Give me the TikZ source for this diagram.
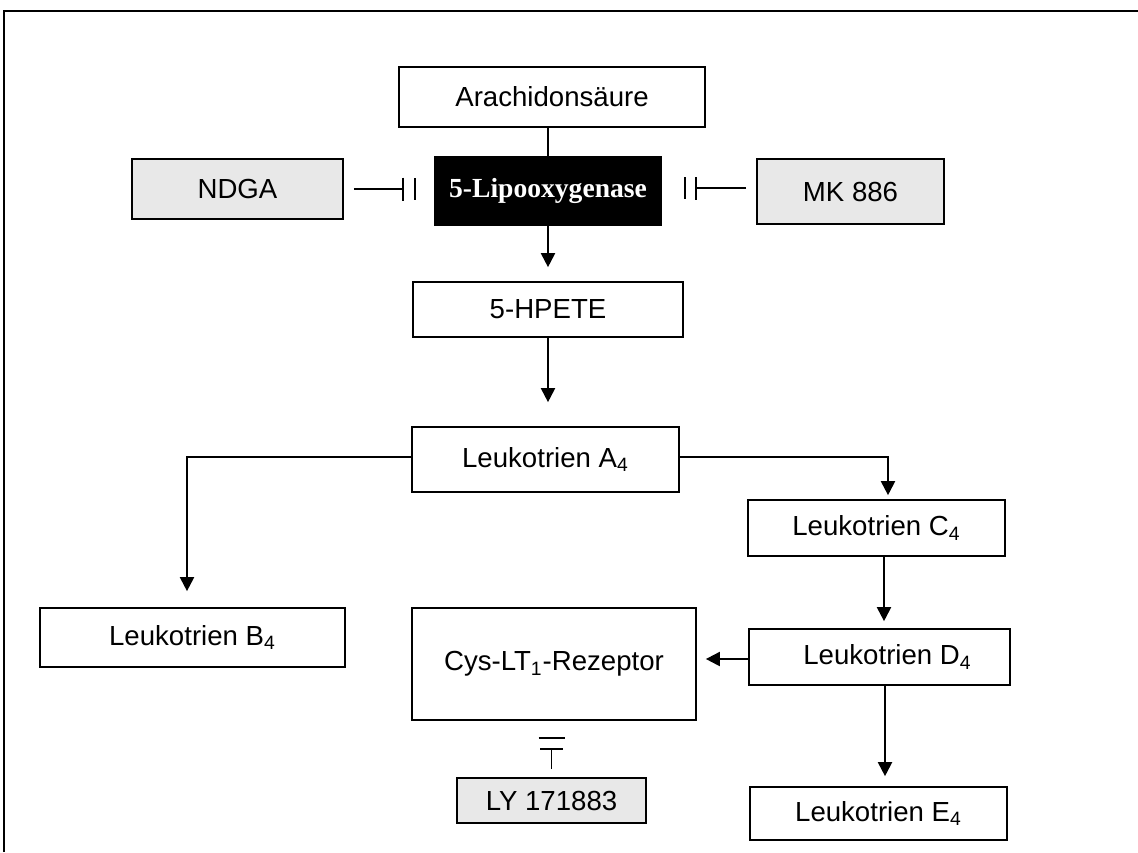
\documentclass[tikz,border=0pt]{standalone}
\usepackage{fontspec}
\setmainfont{Liberation Sans}
\newfontfamily\enzymefont{Liberation Serif}
\usetikzlibrary{arrows.meta,positioning}
\definecolor{InhibGray}{HTML}{E8E8E8}

\tikzset{
  stage/.style={draw, line width=0.85pt, fill=white, inner sep=0pt,
    font=\fontsize{13.8}{16}\selectfont},
  inhibitor/.style={stage, fill=InhibGray},
  enzyme/.style={stage, fill=black, text=white,
    font=\fontsize{13.8}{16}\selectfont\enzymefont\bfseries},
  flow/.style={line width=1pt, -{Triangle[length=7pt,width=7pt]}},
  link/.style={line width=0.9pt},
  blocks/.style={line width=0.9pt, -{Bar[width=11.5pt]}},
  blockbar/.style={line width=0.9pt},
}

\begin{document}
\begin{tikzpicture}[x=0.5pt,y=-0.5pt]
\useasboundingbox (0,0) rectangle (1138,852);
% frame
\draw[line width=1pt] (4,852) -- (4,11) -- (1138,11);

% pathway
\node[stage, minimum width=153pt, minimum height=30pt] (arach) at (552,97) {Arachidonsäure};
\node[enzyme, minimum width=113pt, minimum height=34pt] (lox) at (548,191) {5-Lipooxygenase};
\node[inhibitor, minimum width=105.5pt, minimum height=30pt] (ndga) at (237.5,189) {NDGA};
\node[inhibitor, minimum width=93.5pt, minimum height=32.5pt] (mk) at (850.5,191.5) {MK 886};
\node[stage, minimum width=135pt, minimum height=27.5pt] (hpete) at (548,309.5) {5-HPETE};
\node[stage, minimum width=133.5pt, minimum height=32.5pt] (lta) at (545.5,459.5) {Leukotrien A\textsubscript{4}};
\node[stage, minimum width=152.5pt, minimum height=29.5pt] (ltb) at (192.5,637.5) {Leukotrien B\textsubscript{4}};
\node[stage, minimum width=128.5pt, minimum height=28pt] (ltc) at (876.5,528) {Leukotrien C\textsubscript{4}};
\node[stage, minimum width=130.5pt, minimum height=28pt] (ltd) at (879.5,657) {\hspace*{8pt}Leukotrien D\textsubscript{4}};
\node[stage, minimum width=142pt, minimum height=56pt] (cys) at (554,664) {Cys-LT\textsubscript{1}-Rezeptor};
\node[inhibitor, minimum width=94.5pt, minimum height=22.5pt] (ly) at (551.5,800.5) {LY 171883};
\node[stage, minimum width=128.5pt, minimum height=26.5pt] (lte) at (878.5,813.5) {Leukotrien E\textsubscript{4}};

% connectors
\draw[link] (arach.south -| lox.north) -- (lox.north);
\draw[flow, shorten >=7pt] (lox.south) -- (lox.south |- hpete.north);
\draw[flow, shorten >=12pt] (hpete.south) -- (hpete.south |- lta.north);
\draw[flow, shorten >=8pt] ([yshift=1.2pt]lta.west) -| ([xshift=-2.75pt]ltb.north);
\draw[flow, shorten >=2pt] ([yshift=1.2pt]lta.east) -| ([xshift=5.75pt]ltc.north);
\draw[flow, shorten >=3.5pt] ([xshift=3.75pt]ltc.south) -- ([xshift=3.75pt]ltc.south |- ltd.north);
\draw[flow, shorten >=4.5pt] ([yshift=-1pt]ltd.west) -- ([yshift=-1pt]ltd.west -| cys.east);
\draw[flow, shorten >=5pt] ([xshift=2.75pt]ltd.south) -- ([xshift=2.75pt]ltd.south |- lte.north);

% inhibitors (line with bar, then the second bar)
\draw[blocks, shorten <=5pt, shorten >=15pt] (ndga.east) -- (ndga.east -| lox.west);
\draw[blockbar] ([xshift=-9.5pt]ndga.east -| lox.west) ++(0,-11) -- ++(0,22);
\draw[blocks, shorten <=5pt, shorten >=16.5pt] ([yshift=1.7pt]mk.west) -- ([yshift=1.7pt]mk.west -| lox.east);
\draw[blockbar] ([xshift=11.5pt,yshift=1.7pt]mk.west -| lox.east) ++(0,-11) -- ++(0,22);
\draw[blocks, shorten <=4pt, shorten >=13.5pt] (ly.north) -- (ly.north |- cys.south);
\draw[blockbar] ([yshift=-8.5pt]ly.north |- cys.south) ++(-13,0) -- ++(26,0);
\end{tikzpicture}
\end{document}
